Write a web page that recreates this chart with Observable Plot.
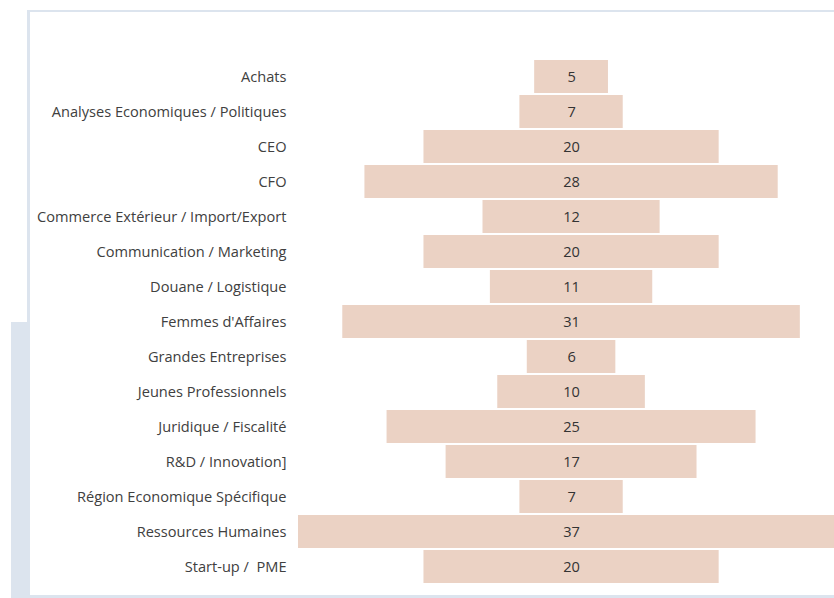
<!DOCTYPE html>
<html>
<head>
<meta charset="utf-8">
<script src="https://cdn.jsdelivr.net/npm/d3@7"></script>
<script src="https://cdn.jsdelivr.net/npm/@observablehq/plot@0.6"></script>
<style>
  html, body { margin: 0; padding: 0; background: #fff; overflow: hidden; }
  #wrap { position: relative; width: 834px; height: 598px; }
  .deco { position: absolute; background: #dce4ee; }
  #chart { position: absolute; left: 0; top: 0; }
</style>
</head>
<body>
<div id="wrap">
  <div class="deco" style="left:11px;top:322px;width:18px;height:276px;"></div>
  <div class="deco" style="left:27px;top:10px;width:3px;height:588px;"></div>
  <div class="deco" style="left:27px;top:10px;width:807px;height:2px;"></div>
  <div class="deco" style="left:11px;top:595px;width:823px;height:3px;"></div>
  <div id="chart"></div>
</div>
<script>
const categories = [
  "Achats",
  "Analyses Economiques / Politiques",
  "CEO",
  "CFO",
  "Commerce Extérieur / Import/Export",
  "Communication / Marketing",
  "Douane / Logistique",
  "Femmes d'Affaires",
  "Grandes Entreprises",
  "Jeunes Professionnels",
  "Juridique / Fiscalité",
  "R&D / Innovation]",
  "Région Economique Spécifique",
  "Ressources Humaines",
  "Start-up /  PME"
];
const values = [5, 7, 20, 28, 12, 20, 11, 31, 6, 10, 25, 17, 7, 37, 20];

const data = categories.map((c, i) => ({category: c, value: values[i]}));
const maxV = d3.max(values);

const chart = Plot.plot({
  width: 834,
  height: 598,
  marginLeft: 298,
  marginRight: 0,
  marginTop: 57,
  marginBottom: 12,
  style: {background: "transparent", fontFamily: "'Open Sans', sans-serif", fontSize: "14.6px", color: "#404040"},
  x: {domain: [-maxV / 2, maxV / 2], range: [298, 298 + maxV * 14.76], axis: null},
  y: {domain: categories, paddingInner: 0.066, paddingOuter: 0.033, label: null, tickSize: 0, tickPadding: 12},
  marks: [
    Plot.barX(data, {y: "category", x1: d => -d.value / 2, x2: d => d.value / 2, fill: "#ebd2c4"}),
    Plot.text(data, {y: "category", x: 0, text: d => String(d.value), fill: "#333", fontSize: 14.6}),
    Plot.axisY({tickSize: 0, tickPadding: 12, fontSize: 14.6, label: null, fill: "#404040"})
  ]
});
document.getElementById("chart").appendChild(chart);
</script>
</body>
</html>
